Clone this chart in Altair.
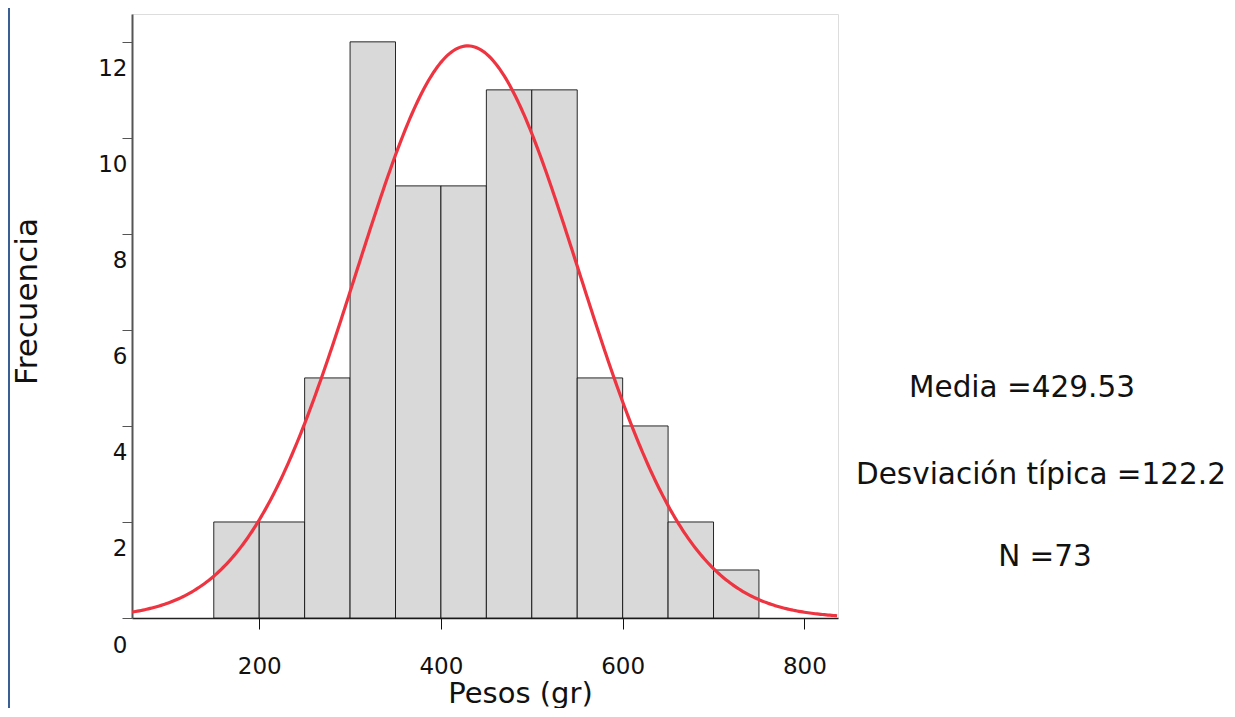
import altair as alt
import pandas as pd

# Histogram data (bin start, counts), bin width 50
bin_starts = [150, 200, 250, 300, 350, 400, 450, 500, 550, 600, 650, 700]
counts = [2, 2, 5, 12, 9, 9, 11, 11, 5, 4, 2, 1]
bin_width = 50

# Normal curve parameters (from the annotation)
media = 429.53
desv = 122.2
n_total = 73

stats_labels = ["Media =429.53", "Desviación típica =122.2", "N =73"]
x_ticks = [200, 400, 600, 800]
y_ticks = [0, 2, 4, 6, 8, 10, 12]

FONT = "DejaVu Sans"

bars_df = pd.DataFrame({
    "start": bin_starts,
    "end": [b + bin_width for b in bin_starts],
    "count": counts,
})

x_scale = alt.Scale(domain=[60, 837], nice=False, zero=False)
y_scale = alt.Scale(domain=[0, 12.58], nice=False, zero=True)

x_axis = alt.Axis(
    title="Pesos (gr)", values=x_ticks, grid=False,
    tickSize=11, tickColor="#111", domainColor="#222", domainWidth=1.5,
    labelFontSize=23, labelFont=FONT, labelColor="#111", labelPadding=26,
    titleFont=FONT, titleFontSize=29, titleFontWeight="normal", titleColor="#111",
    titleX=388, titleY=75, titleBaseline="middle", titleAlign="center",
)
y_axis = alt.Axis(
    title="Frecuencia", values=y_ticks, grid=False,
    tickSize=10, tickColor="#555", domainColor="#555", domainWidth=2,
    labelFontSize=23, labelFont=FONT, labelColor="#111", labelPadding=-5,
    labelOffset=27, labelBaseline="middle",
    titleFont=FONT, titleFontSize=31, titleFontWeight="normal", titleColor="#111",
    titleX=-105, titleY=287, titleBaseline="middle", titleAlign="center", titleAngle=-90,
)

bars = alt.Chart(bars_df).mark_rect(
    fill="#d9d9d9", stroke="#111", strokeWidth=0.9
).encode(
    x=alt.X("start:Q", scale=x_scale, axis=x_axis),
    x2="end:Q",
    y=alt.Y("count:Q", scale=y_scale, axis=y_axis),
    y2=alt.datum(0),
)

curve = alt.Chart(alt.sequence(60, 838, 2, as_="x")).transform_calculate(
    y=f"{n_total}*{bin_width}/({desv}*sqrt(2*PI))*exp(-0.5*pow((datum.x-{media})/{desv},2))"
).mark_line(color="#ee3440", strokeWidth=3.2, clip=True).encode(
    x=alt.X("x:Q", scale=x_scale),
    y=alt.Y("y:Q", scale=y_scale),
)

def stat_text(label, px, py):
    return alt.Chart(pd.DataFrame({"t": [label]})).mark_text(
        font=FONT, fontSize=29.5, color="#111", align="center", baseline="middle"
    ).encode(text="t:N", x=alt.value(px), y=alt.value(py))

t1 = stat_text(stats_labels[0], 890, 374)
t2 = stat_text(stats_labels[1], 909, 461)
t3 = stat_text(stats_labels[2], 913, 543)

border = alt.Chart(pd.DataFrame({"a": [0]})).mark_rule(
    color="#3a5f95", strokeWidth=2
).encode(x=alt.value(-123), y=alt.value(-6), y2=alt.value(700))

chart = alt.layer(bars, curve, t1, t2, t3, border).properties(
    width=706, height=604,
    autosize=alt.AutoSizeParams(type="none"),
    padding={"left": 124, "top": 6, "right": 389, "bottom": 90},
).configure_view(
    stroke="#111", strokeWidth=1.5
).configure(background="white")

chart.save("out.html", embed_options={"renderer": "svg", "actions": False})
